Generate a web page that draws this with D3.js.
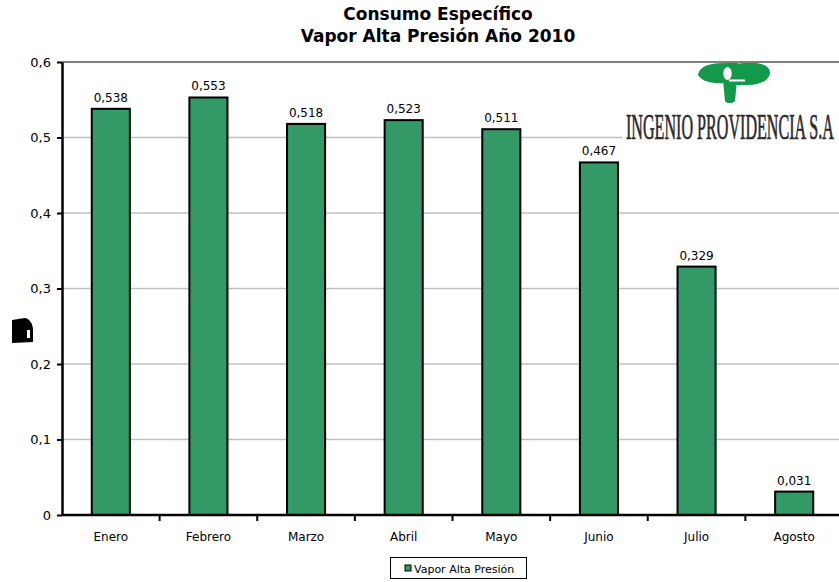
<!DOCTYPE html>
<html>
<head>
<meta charset="utf-8">
<script src="https://cdn.jsdelivr.net/npm/d3@7/dist/d3.min.js"></script>
<style>
  html, body { margin: 0; padding: 0; background: #fff; }
  svg { display: block; }
</style>
</head>
<body>
<div id="chart"></div>
<script>
// Monthly specific consumption, high pressure steam, 2010
const months = ["Enero", "Febrero", "Marzo", "Abril", "Mayo", "Junio", "Julio", "Agosto"];
const values = [0.538, 0.553, 0.518, 0.523, 0.511, 0.467, 0.329, 0.031];
const yTicks = [0, 0.1, 0.2, 0.3, 0.4, 0.5, 0.6];
const titleLines = ["Consumo Específico", "Vapor Alta Presión Año 2010"];
const seriesName = "Vapor Alta Presión";
const companyName = "INGENIO PROVIDENCIA S.A";

const W = 839, H = 582;
const plot = { left: 62, right: 843, top: 62, bottom: 515 };
const barColor = "#339966";
const fmt = v => d3.format(".3f")(v).replace(".", ",");
const fmtTick = v => (v === 0 ? "0" : d3.format(".1f")(v).replace(".", ","));

const svg = d3.select("#chart").append("svg")
  .attr("width", W).attr("height", H)
  .style("font-family", "'DejaVu Sans', Verdana, sans-serif");

const x = d3.scaleBand().domain(months).range([plot.left, plot.right]).paddingInner(0).paddingOuter(0);
const y = d3.scaleLinear().domain([0, 0.6]).range([plot.bottom, plot.top]);
const barW = x.bandwidth() * 0.39;

// Horizontal gridlines
svg.append("g").selectAll("line")
  .data(yTicks.filter(t => t > 0 && t < 0.6))
  .join("line")
  .attr("x1", plot.left).attr("x2", W)
  .attr("y1", d => y(d)).attr("y2", d => y(d))
  .attr("stroke", "#c0c0c0")
  .attr("stroke-width", 1.5);

// Company logo (top right) on its own white backing
svg.append("rect").attr("x", 622).attr("y", 64).attr("width", W - 622).attr("height", 82).attr("fill", "#fff");
const logo = svg.append("g").attr("fill", "#129a4a");
logo.append("path").attr("d",
  "M698,75 C699,67 708,63 724,63 L726,83 C714,84 702,82 698,75 Z");
logo.append("path").attr("d",
  "M736,64 C750,62 764,62 769,69 C773,77 764,85 748,85 L736,85 Z");
logo.append("circle").attr("cx", 731).attr("cy", 72).attr("r", 11);
logo.append("path").attr("d",
  "M723,80 L737,80 L735,101 C732,104 727,104 725,101 Z");
logo.append("ellipse").attr("cx", 727.5).attr("cy", 73.5).attr("rx", 4.2).attr("ry", 6.5).attr("fill", "#fff");
logo.append("rect").attr("x", 729).attr("y", 79.5).attr("width", 16).attr("height", 2).attr("fill", "#fff");

// Company name, condensed horizontally to fit the logo block
const company = svg.append("text")
  .attr("x", 0).attr("y", 0)
  .attr("font-family", "'Liberation Serif', 'Times New Roman', serif")
  .attr("font-size", 35)
  .attr("fill", "#2a2a2a")
  .attr("stroke", "#2a2a2a").attr("stroke-width", 0.7)
  .text(companyName);
const naturalWidth = company.node().getComputedTextLength() || 400;
company.attr("transform", `translate(626,139) scale(${208 / naturalWidth},1)`);

// Top border of the plot area at 0,6
svg.append("line")
  .attr("x1", plot.left).attr("x2", W)
  .attr("y1", y(0.6)).attr("y2", y(0.6))
  .attr("stroke", "#808080").attr("stroke-width", 2);

// Bars
svg.append("g").selectAll("rect")
  .data(values)
  .join("rect")
  .attr("x", (d, i) => x(months[i]) + (x.bandwidth() - barW) / 2)
  .attr("y", d => y(d))
  .attr("width", barW)
  .attr("height", d => y(0) - y(d))
  .attr("fill", barColor)
  .attr("stroke", "#000")
  .attr("stroke-width", 2);

// Value labels
svg.append("g").selectAll("text")
  .data(values)
  .join("text")
  .attr("x", (d, i) => x(months[i]) + x.bandwidth() / 2)
  .attr("y", d => y(d) - 7)
  .attr("text-anchor", "middle")
  .attr("font-size", 12)
  .attr("fill", "#000")
  .text(d => fmt(d));

// Y axis
const yAxis = svg.append("g")
  .attr("transform", `translate(${plot.left},0)`)
  .call(d3.axisLeft(y).tickValues(yTicks).tickFormat(fmtTick).tickSize(5).tickSizeOuter(0));
yAxis.select(".domain").attr("stroke", "#000").attr("stroke-width", 2.5);
yAxis.selectAll(".tick line").attr("stroke", "#000").attr("stroke-width", 2);
yAxis.selectAll(".tick text").attr("font-size", 13).attr("fill", "#000")
  .attr("font-family", "'DejaVu Sans', Verdana, sans-serif").attr("x", -11);

// X axis
const xAxis = svg.append("g")
  .attr("transform", `translate(0,${plot.bottom})`)
  .call(d3.axisBottom(x).tickSize(0).tickSizeOuter(0));
xAxis.select(".domain").attr("stroke", "#000").attr("stroke-width", 2.5)
  .attr("d", `M${plot.left},0H${W}`);
xAxis.selectAll(".tick text").attr("font-size", 12).attr("fill", "#000")
  .attr("font-family", "'DejaVu Sans', Verdana, sans-serif").attr("dy", "1.95em");
// Category boundary ticks
svg.append("g").selectAll("line")
  .data(months.slice(1))
  .join("line")
  .attr("x1", d => x(d)).attr("x2", d => x(d))
  .attr("y1", plot.bottom).attr("y2", plot.bottom + 6)
  .attr("stroke", "#000").attr("stroke-width", 2);

// Y axis title glyph
svg.append("path")
  .attr("d", "M12,320 L25,318 C30,319 33,324 33,330 L33,342 L12,343 Z M27,330 L27,338 L30,338 L30,330 Z")
  .attr("fill", "#000").attr("fill-rule", "evenodd");

// Title
svg.append("g").selectAll("text")
  .data(titleLines)
  .join("text")
  .attr("x", 438)
  .attr("y", (d, i) => 20 + i * 22)
  .attr("text-anchor", "middle")
  .attr("font-size", 17)
  .attr("font-weight", "bold")
  .attr("fill", "#000")
  .text(d => d);

// Legend
const legend = svg.append("g");
legend.append("rect").attr("x", 390.5).attr("y", 557.5).attr("width", 136).attr("height", 21)
  .attr("fill", "#fff").attr("stroke", "#000").attr("stroke-width", 1);
legend.append("rect").attr("x", 405).attr("y", 565).attr("width", 6).attr("height", 6)
  .attr("fill", barColor).attr("stroke", "#000").attr("stroke-width", 1);
legend.append("text").attr("x", 414).attr("y", 572.5)
  .attr("font-size", 11).attr("fill", "#000").text(seriesName);
</script>
</body>
</html>
